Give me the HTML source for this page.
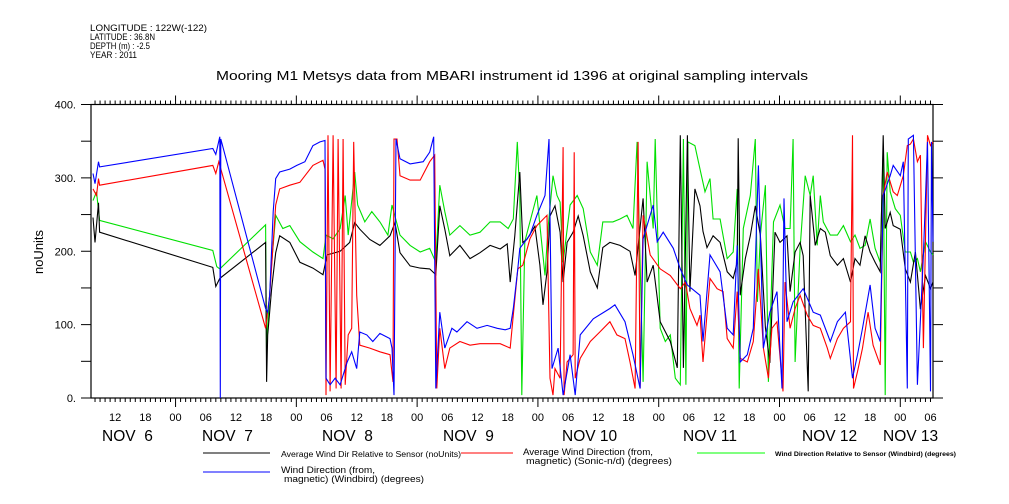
<!DOCTYPE html>
<html><head><meta charset="utf-8"><style>
body{margin:0;background:#fff;}
svg{display:block;font-family:"Liberation Sans",sans-serif;}
</style></head><body>
<svg id="chart" width="1009" height="504" viewBox="0 0 1009 504">
<g font-size="9" fill="#000">
<text x="90" y="31" textLength="117" lengthAdjust="spacingAndGlyphs">LONGITUDE : 122W(-122)</text>
<text x="90" y="40" textLength="65" lengthAdjust="spacingAndGlyphs">LATITUDE : 36.8N</text>
<text x="90" y="49" textLength="60" lengthAdjust="spacingAndGlyphs">DEPTH (m) : -2.5</text>
<text x="90" y="58" textLength="47" lengthAdjust="spacingAndGlyphs">YEAR : 2011</text>
</g>
<text x="216" y="80" font-size="13" textLength="592" lengthAdjust="spacingAndGlyphs" fill="#000">Mooring M1 Metsys data from MBARI instrument id 1396 at original sampling intervals</text>
<text transform="translate(43,252) rotate(-90)" font-size="13" text-anchor="middle">noUnits</text>
<g id="axes"></g>
<g id="series"></g>
<g id="legend" font-size="8">
<line x1="203" y1="453" x2="270" y2="453" stroke="#000"/>
<text x="281" y="457" textLength="180" lengthAdjust="spacingAndGlyphs">Average Wind Dir Relative to Sensor (noUnits)</text>
<line x1="461" y1="453" x2="513" y2="453" stroke="#f00"/>
<text x="523" y="455" font-size="9" textLength="130" lengthAdjust="spacingAndGlyphs">Average Wind Direction (from,</text>
<text x="526" y="464" font-size="9" textLength="146" lengthAdjust="spacingAndGlyphs">magnetic) (Sonic-n/d) (degrees)</text>
<line x1="697" y1="453" x2="765" y2="453" stroke="#0f0"/>
<text x="775" y="456" font-size="6.5" font-weight="bold" textLength="181" lengthAdjust="spacingAndGlyphs">Wind Direction Relative to Sensor (Windbird) (degrees)</text>
<line x1="203" y1="472" x2="270" y2="472" stroke="#00f"/>
<text x="281" y="473" font-size="9" textLength="94" lengthAdjust="spacingAndGlyphs">Wind Direction (from,</text>
<text x="284" y="482" font-size="9" textLength="140" lengthAdjust="spacingAndGlyphs">magnetic) (Windbird) (degrees)</text>
</g>
</svg>
<script>
const yTicks=[0,100,200,300,400];
const hourLabels=["00","06","12","18"];
const dayLabels=["NOV  6","NOV  7","NOV  8","NOV  9","NOV 10","NOV 11","NOV 12","NOV 13"];
const blackT=[7.6,8.0,8.7,8.9,31.4,32.0,32.8,41.9,42.1,42.3,43.1,43.9,44.7,46.7,48.7,51.3,53.3,54.1,56.7,58.6,59.6,60.6,62.6,64.6,66.6,67.6,68.6,70.6,72.6,74.5,75.7,76.5,77.5,78.5,80.5,82.5,84.5,86.5,88.5,89.9,90.5,91.4,92.4,93.0,93.8,95.4,96.4,97.0,97.8,98.4,99.4,100.4,101.0,101.8,103.0,104.0,105.0,106.4,107.8,108.9,110.3,112.3,114.3,115.3,116.9,117.7,118.9,120.3,122.3,123.7,124.3,124.9,125.7,126.2,127.2,128.2,128.8,129.6,130.8,132.2,133.6,134.8,135.6,135.8,136.2,137.2,138.2,139.2,140.2,141.2,142.1,143.1,144.1,145.5,146.1,147.1,148.1,148.7,149.7,150.1,151.1,152.1,153.1,154.1,155.5,156.7,158.1,159.0,160.0,161.0,162.0,163.0,164.0,164.6,165.0,166.0,166.6,168.0,169.0,170.0,171.0,172.0,173.0,174.0,174.5];
const blackV=[246,212,266,226,178,152,163,212,22,86,150,198,221,212,185,177,168,195,200,212,239,230,216,208,221,239,198,180,177,176,168,262,230,194,208,190,198,208,203,210,158,221,308,212,216,234,181,127,172,248,262,226,158,212,226,248,221,172,150,205,212,208,200,167,272,158,181,104,77,41,358,41,358,145,285,262,227,205,221,212,172,163,185,354,140,190,221,262,221,96,48,226,212,221,145,199,212,194,9,276,208,231,226,194,181,190,158,190,181,221,199,185,172,358,231,253,235,230,176,158,199,121,167,149,158];
const greenT=[7.6,8.3,8.9,31.4,32.2,32.8,41.9,42.1,42.3,43.1,43.9,45.3,46.7,48.7,51.3,53.3,53.9,55.3,56.7,57.7,58.3,59.6,60.2,61.6,63.0,64.6,66.2,67.0,68.6,70.6,72.6,74.5,75.7,76.5,77.5,78.5,80.5,82.5,84.5,86.5,88.5,90.1,91.1,91.9,92.4,92.8,93.4,94.4,95.8,97.4,98.0,99.0,99.8,100.4,101.0,102.4,103.8,105.0,106.4,107.8,108.9,110.9,112.3,113.7,114.9,115.7,116.3,116.9,117.7,118.9,119.3,120.3,121.3,122.3,123.3,124.3,124.9,125.4,125.8,127.2,128.2,129.2,130.2,130.8,132.2,133.6,134.8,135.6,136.0,136.8,138.2,139.2,139.6,140.2,141.2,141.8,142.8,144.1,145.1,146.1,146.7,147.1,148.1,149.1,150.1,150.7,151.5,152.1,152.7,154.1,155.5,156.7,158.1,159.0,160.0,161.0,162.0,163.0,164.0,164.6,165.0,165.4,166.0,167.0,168.0,169.0,170.0,170.6,171.4,172.0,173.0,174.0,174.5];
const greenV=[269,281,242,201,179,176,236,49,99,185,249,231,235,213,199,190,222,217,231,276,222,308,263,240,254,240,222,263,222,208,199,204,185,290,254,222,235,222,226,240,240,231,244,349,276,4,213,240,276,167,231,303,276,267,185,263,276,258,199,181,240,240,244,249,231,349,185,22,322,231,353,95,77,86,27,18,353,18,349,344,312,281,299,244,244,190,199,285,13,231,276,353,131,222,290,22,240,263,231,231,353,49,204,303,276,303,208,276,240,222,222,235,213,222,204,208,244,204,185,340,4,335,281,258,249,199,199,185,190,172,213,199,195];
const blueT=[7.6,8.0,8.7,8.9,31.4,32.0,32.8,32.9,33.0,41.9,42.3,42.7,43.4,43.9,44.7,46.7,48.1,49.7,51.3,52.7,53.7,53.9,54.7,55.7,56.7,58.1,59.0,60.0,60.6,62.0,63.2,64.6,66.6,67.0,67.4,67.8,68.6,70.6,73.2,74.5,75.3,75.7,76.5,77.5,78.9,79.9,81.9,83.9,85.9,87.9,89.5,90.5,91.1,92.0,92.4,94.4,95.8,97.4,98.2,98.8,100.0,101.0,102.4,103.4,104.4,107.0,110.3,111.3,113.3,114.9,116.3,116.9,118.9,119.7,120.9,122.9,124.3,125.7,128.2,128.8,130.2,132.2,133.6,134.8,135.6,136.2,137.6,138.8,139.8,140.8,142.1,143.5,144.5,144.9,145.5,146.7,148.7,150.7,152.1,154.1,155.5,157.1,158.5,159.5,160.5,162.0,163.0,164.0,164.6,166.0,166.6,168.0,168.6,169.4,169.6,170.6,171.4,172.6,173.4,174.0,174.2,174.5];
const blueV=[306,292,322,315,340,332,356,0,353,122,117,140,254,299,308,312,317,322,344,349,351,27,18,27,18,49,63,40,90,86,77,88,81,68,4,353,326,319,322,335,356,13,117,68,95,90,104,95,99,95,93,95,122,176,204,222,249,276,353,40,68,4,59,4,86,108,122,127,104,59,13,217,263,213,226,204,176,154,140,77,195,172,95,86,208,49,59,95,317,68,117,145,13,272,104,131,149,117,113,77,104,117,27,59,95,154,95,77,276,303,317,303,322,13,353,358,18,195,349,9,349,213];
const redT=[7.6,8.3,8.7,8.9,31.4,32.0,32.6,41.9,42.7,43.9,44.7,46.7,48.7,51.3,53.3,53.7,53.9,54.3,54.7,55.3,55.9,56.3,56.9,57.3,57.7,58.3,59.0,59.4,60.0,60.6,62.6,64.6,66.6,67.2,67.4,68.0,68.6,70.6,72.6,74.5,75.5,75.9,76.5,77.5,78.5,80.5,82.5,84.5,86.5,88.5,90.5,91.1,92.0,93.0,94.4,95.8,97.8,98.4,99.0,99.4,100.4,101.0,101.2,101.8,103.0,103.2,103.4,104.4,106.4,108.3,110.3,111.7,113.3,114.3,115.3,115.9,116.3,116.9,118.3,120.3,122.3,124.3,125.3,126.2,127.6,128.2,128.8,130.2,131.6,132.8,133.6,134.8,135.6,136.2,137.6,138.8,139.8,140.8,141.8,142.5,143.5,144.7,145.1,146.1,147.1,148.1,149.5,150.7,152.1,153.5,154.1,155.5,156.7,158.1,158.5,158.7,159.5,160.5,161.6,162.6,164.0,164.6,165.4,166.6,167.4,168.6,169.4,170.0,170.6,171.4,172.0,172.6,173.4,174.0,174.5];
const redV=[285,276,299,290,317,306,322,95,140,263,285,290,294,317,324,312,4,358,9,358,13,353,13,353,18,86,95,349,140,72,68,63,59,22,353,353,303,297,297,322,331,13,95,40,68,77,72,74,74,74,68,113,176,181,217,235,249,27,4,40,27,342,4,49,59,335,27,54,77,90,104,86,81,49,13,349,13,249,195,176,167,149,158,122,99,113,49,163,149,145,81,68,145,54,49,77,176,68,27,95,104,9,158,95,122,140,113,99,95,68,54,81,95,104,358,13,36,68,117,72,45,276,308,281,276,303,344,346,353,322,331,68,358,344,349];

const X0=91,X1=933,Y0=398,Y1=104.5,H0=7.2,H1=174.5,VMAX=400;
const xs=h=>X0+(h-H0)*(X1-X0)/(H1-H0);
const ys=v=>Y0-v*(Y0-Y1)/VMAX;
const NS="http://www.w3.org/2000/svg";
function mk(tag,attrs,parent){const e=document.createElementNS(NS,tag);for(const k in attrs)e.setAttribute(k,attrs[k]);parent.appendChild(e);return e;}
const axes=document.getElementById('axes');
const frame=mk('rect',{x:X0,y:Y1,width:X1-X0,height:Y0-Y1,fill:'none',stroke:'#000','stroke-width':1.2},axes);


for(let v=0;v<=VMAX;v+=50){
  const y=ys(v);
  const tl=mk('line',{x1:X0-10,y1:y,x2:X0,y2:y,stroke:'#000'},axes);
  
  
  const tr=mk('line',{x1:X1,y1:y,x2:X1+10,y2:y,stroke:'#000'},axes);
  
  
}
yTicks.forEach(v=>{
  const t=mk('text',{x:X0-15,y:ys(v)+4,'font-size':11,'text-anchor':'end'},axes);
  t.textContent=v+'.';
  
  
});
for(let h=Math.ceil(H0);h<=H1;h++){
  const x=xs(h);const major=h%24===0;
  const len=major?9:4;
  const b=mk('line',{x1:x,y1:Y0,x2:x,y2:Y0+len,stroke:'#000'},axes);
  
  
  const t=mk('line',{x1:x,y1:Y1,x2:x,y2:Y1-len,stroke:'#000'},axes);
  
  
  if(h%6===0){
    const l=mk('text',{x:x,y:421,'font-size':11,'text-anchor':'middle'},axes);
    l.textContent=hourLabels[(h%24)/6];
    
    
  }
}
const dayX=[102,202,322,443,562,683,802,883];
dayLabels.forEach((d,i)=>{
  const l=mk('text',{x:dayX[i],y:441,'font-size':15.5},axes);
  l.setAttribute('style','white-space:pre');
  l.textContent=d;
  
  
});
const sg=document.getElementById('series');
[[greenT,greenV,'#00e000','series-wind-dir-relative-windbird'],[blackT,blackV,'#000','series-avg-wind-dir-relative'],[redT,redV,'#f00','series-avg-wind-direction-sonic'],[blueT,blueV,'#00f','series-wind-direction-windbird']].forEach(s=>{
  const pts=s[0].map((h,i)=>xs(h).toFixed(1)+','+ys(s[1][i]).toFixed(1)).join(' ');
  const p=mk('polyline',{points:pts,fill:'none',stroke:s[2],'stroke-width':1.1},sg);
  
  
});
</script>
</body></html>
